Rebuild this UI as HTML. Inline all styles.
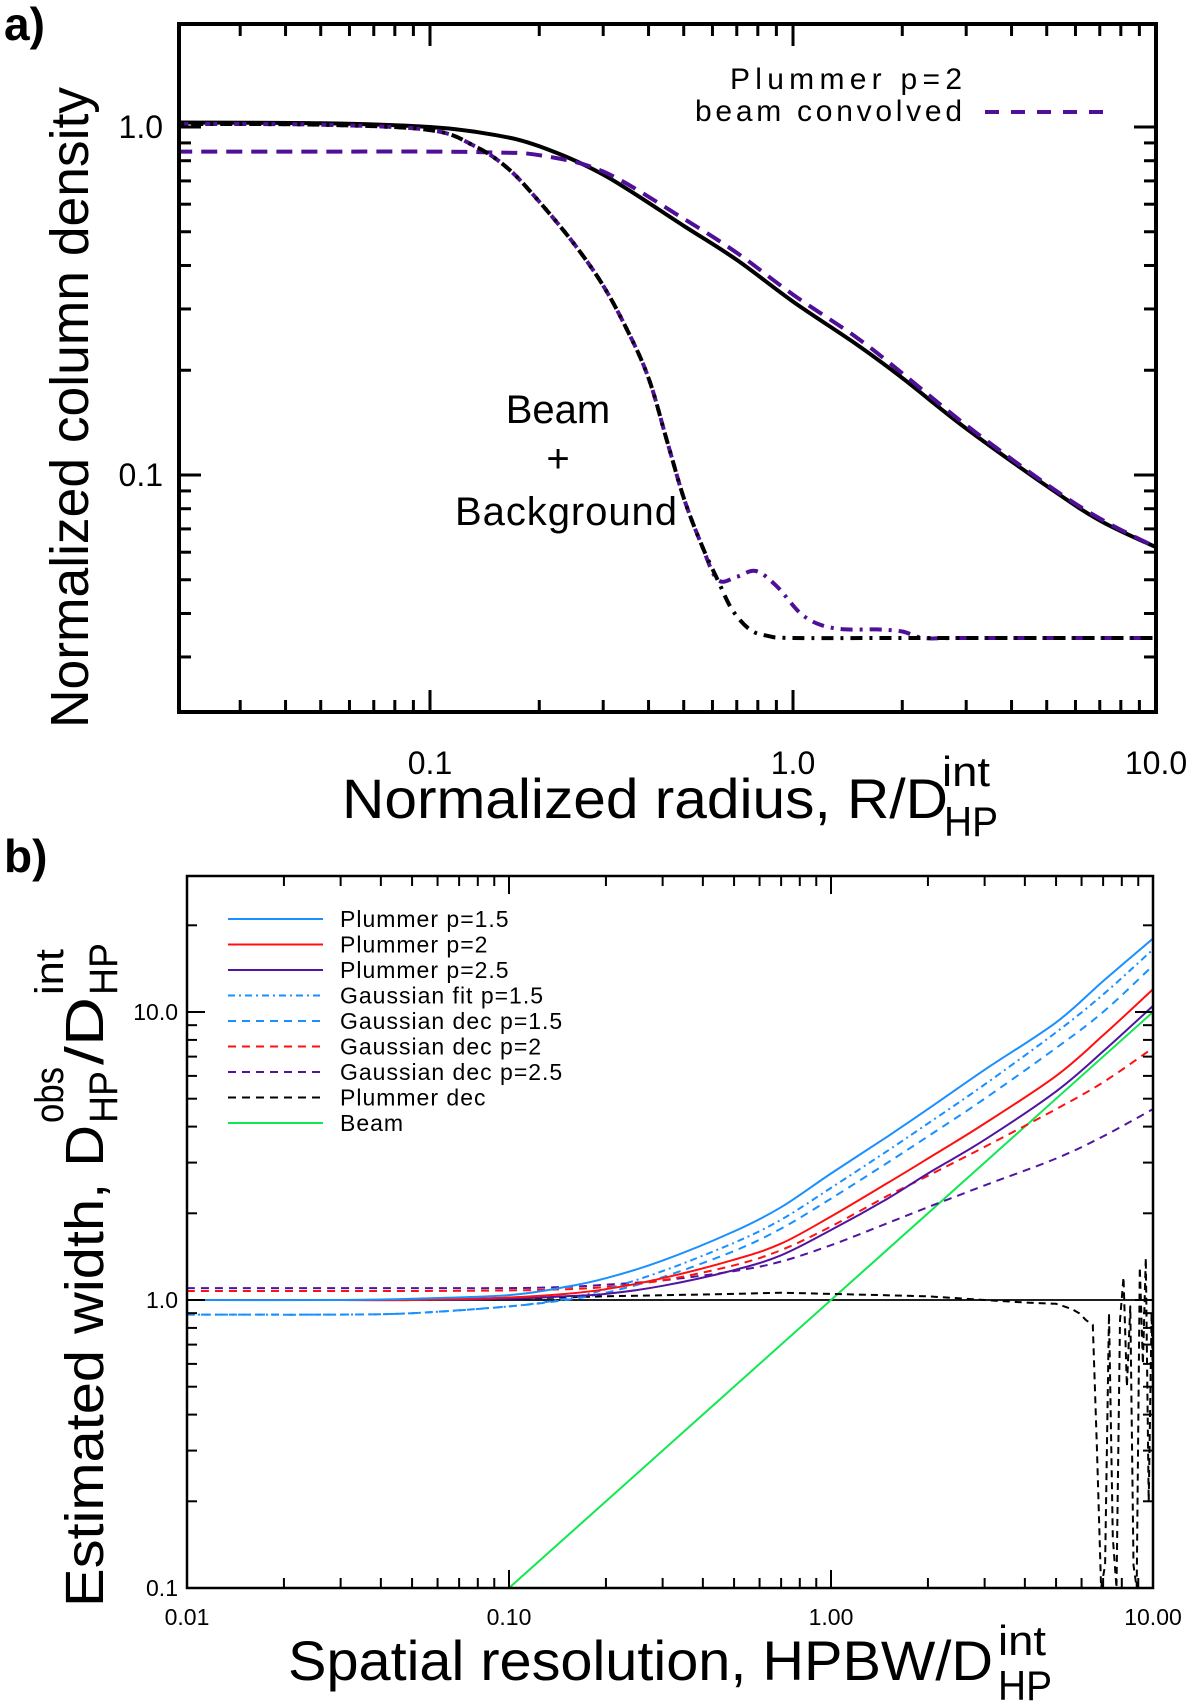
<!DOCTYPE html>
<html><head><meta charset="utf-8"><style>
html,body{margin:0;padding:0;background:#fff;}
svg{display:block;font-family:"Liberation Sans",sans-serif;}
</style></head><body>
<svg id="fig" width="1200" height="1702" viewBox="0 0 1200 1702" xmlns="http://www.w3.org/2000/svg">
  <text x="4" y="40" font-size="46" font-weight="bold">a)</text>
  <text x="4" y="872" font-size="46" font-weight="bold">b)</text>
  <g id="pa"></g>
  <g id="pb"></g>
  <text x="962" y="89" font-size="30" text-anchor="end" textLength="232">Plummer  p=2</text>
  <text x="962" y="121" font-size="30" text-anchor="end" textLength="267">beam  convolved</text>
  <line x1="985" y1="112" x2="1105" y2="112" stroke="#4f0f96" stroke-width="4" stroke-dasharray="14 12"/>
  <text x="558" y="423" font-size="40" text-anchor="middle">Beam</text>
  <text x="558" y="472" font-size="40" text-anchor="middle">+</text>
  <text x="566" y="525" font-size="40" text-anchor="middle" textLength="222">Background</text>
  <text transform="translate(88,728) rotate(-90)" font-size="54" textLength="641" lengthAdjust="spacingAndGlyphs">Normalized column density</text>
  <g>
    <text x="342" y="818" font-size="56" textLength="606" lengthAdjust="spacingAndGlyphs">Normalized radius, R/D</text>
    <text x="942" y="786" font-size="42" textLength="48" lengthAdjust="spacingAndGlyphs">int</text>
    <text x="944" y="836" font-size="42" textLength="54" lengthAdjust="spacingAndGlyphs">HP</text>
  </g>
  <g transform="translate(103,1607) rotate(-90)">
    <text x="0" y="0" font-size="54" textLength="482" lengthAdjust="spacingAndGlyphs">Estimated width, D</text>
    <text x="484" y="-40" font-size="40" textLength="56" lengthAdjust="spacingAndGlyphs">obs</text>
    <text x="484" y="14" font-size="40" textLength="52" lengthAdjust="spacingAndGlyphs">HP</text>
    <text x="542" y="0" font-size="54" textLength="68" lengthAdjust="spacingAndGlyphs">/D</text>
    <text x="612" y="-40" font-size="40" textLength="46" lengthAdjust="spacingAndGlyphs">int</text>
    <text x="612" y="14" font-size="40" textLength="52" lengthAdjust="spacingAndGlyphs">HP</text>
  </g>
  <g>
    <text x="288" y="1680" font-size="56" textLength="705" lengthAdjust="spacingAndGlyphs">Spatial resolution, HPBW/D</text>
    <text x="998" y="1655" font-size="42" textLength="48" lengthAdjust="spacingAndGlyphs">int</text>
    <text x="998" y="1700" font-size="42" textLength="54" lengthAdjust="spacingAndGlyphs">HP</text>
  </g>
</svg>
<script>
// ---------- Panel a data ----------
const aPlumX = [0.02,0.05,0.1,0.15,0.2,0.3,0.5,0.7,1,1.5,2,3,5,7,10];
const aPlumY = [1.03,1.025,1.0,0.95,0.88,0.73,0.52,0.415,0.315,0.237,0.19,0.136,0.093,0.074,0.062];
const aConvX = [0.02,0.05,0.1,0.15,0.2,0.3,0.5,0.7,1,1.5,2,3,5,7,10];
const aConvY = [0.85,0.85,0.85,0.845,0.83,0.745,0.545,0.435,0.33,0.248,0.196,0.139,0.094,0.075,0.062];
const aBeamX = [0.02,0.05,0.1,0.133,0.164,0.2,0.25,0.3,0.35,0.4,0.45,0.5,0.56,0.62,0.68,0.76,0.85,1,2,10];
const aBeamY = [1.02,1.015,0.98,0.88,0.76,0.61,0.46,0.35,0.26,0.19,0.125,0.086,0.063,0.05,0.041,0.036,0.0345,0.034,0.034,0.034];
const aBeamConvX = [0.02,0.05,0.1,0.133,0.164,0.2,0.25,0.3,0.35,0.4,0.45,0.5,0.56,0.62,0.7,0.79,0.9,1.05,1.2,1.4,1.7,2.0,2.3,3,10];
const aBeamConvY = [1.02,1.015,0.98,0.88,0.76,0.61,0.46,0.35,0.26,0.19,0.125,0.086,0.063,0.05,0.051,0.053,0.048,0.04,0.037,0.036,0.036,0.0355,0.034,0.034,0.034];
const aXTicks = [0.1,1,10];
const aXTickLabels = ["0.1","1.0","10.0"];
const aYTicks = [0.1,1];
const aYTickLabels = ["0.1","1.0"];

// ---------- Panel b data ----------
const bX = [0.01,0.03,0.05,0.1,0.15,0.2,0.3,0.5,0.7,1,1.5,2,3,5,7,10];
const bPlum15 = [1.0,1.0,1.01,1.04,1.11,1.19,1.37,1.73,2.1,2.75,3.7,4.6,6.3,9.2,12.8,18];
const bPlum2 = [1.0,1.0,1.0,1.02,1.05,1.09,1.19,1.38,1.57,1.95,2.55,3.1,4.1,6.0,8.3,12];
const bPlum25 = [1.0,1.0,1.0,1.01,1.03,1.05,1.12,1.27,1.43,1.75,2.25,2.75,3.6,5.3,7.3,10.5];
const bGfit15 = [0.89,0.89,0.9,0.95,1.01,1.09,1.26,1.58,1.9,2.45,3.3,4.1,5.6,8.5,11.5,16.5];
const bGdec15 = [0.89,0.89,0.9,0.95,1.0,1.06,1.2,1.48,1.77,2.25,3.0,3.7,5.0,7.5,10,14.5];
const bGdec2 = [1.075,1.075,1.075,1.08,1.09,1.11,1.17,1.32,1.49,1.8,2.3,2.7,3.4,4.6,5.7,7.5];
const bGdec25 = [1.1,1.1,1.1,1.1,1.11,1.13,1.17,1.26,1.36,1.55,1.85,2.1,2.5,3.1,3.7,4.6];
const bPdecX = [0.01,0.05,0.1,0.2,0.5,0.7,1,2,3,4,5,5.3,5.6,5.9,6.2,6.5,6.7,6.9,7.1,7.3,7.5,7.7,7.9,8.1,8.3,8.5,8.7,8.9,9.1,9.3,9.5,9.7,9.9,10];
const bPdecY = [1.0,1.0,1.01,1.03,1.05,1.06,1.05,1.03,1.0,0.98,0.97,0.95,0.93,0.9,0.85,0.82,0.3,0.1,0.12,0.9,0.15,0.1,0.85,1.2,0.5,0.95,0.12,0.1,1.3,0.6,1.4,0.2,0.9,0.5];
const bBeamX = [0.1,10];
const bBeamY = [0.1,10];
const bUnityX = [0.01,10];
const bUnityY = [1,1];
const bXTicks = [0.01,0.1,1,10];
const bXTickLabels = ["0.01","0.10","1.00","10.00"];
const bYTicks = [0.1,1,10];
const bYTickLabels = ["0.1","1.0","10.0"];

const NS = "http://www.w3.org/2000/svg";
const L = Math.log10;
const aL=179,aR=1156,aT=24,aB=712;
function xA(v){return 430+363*L(v/0.1);}
function yA(v){return 127-348*L(v);}
const bL=187,bR=1153,bT=876,bB=1588;
function xB(v){return 509+322*L(v/0.1);}
function yB(v){return 1300-288*L(v);}

function mk(tag,attrs,parent){const e=document.createElementNS(NS,tag);for(const k in attrs)e.setAttribute(k,attrs[k]);parent.appendChild(e);return e;}

function pathD(pts,smooth){
  let d="M"+pts[0][0].toFixed(1)+","+pts[0][1].toFixed(1);
  for(let i=0;i<pts.length-1;i++){
    const p0=pts[Math.max(0,i-1)],p1=pts[i],p2=pts[i+1],p3=pts[Math.min(pts.length-1,i+2)];
    if(!smooth){d+="L"+p2[0].toFixed(1)+","+p2[1].toFixed(1);continue;}
    const c1=[p1[0]+(p2[0]-p0[0])/6,p1[1]+(p2[1]-p0[1])/6];
    const c2=[p2[0]-(p3[0]-p1[0])/6,p2[1]-(p3[1]-p1[1])/6];
    d+="C"+c1[0].toFixed(1)+","+c1[1].toFixed(1)+" "+c2[0].toFixed(1)+","+c2[1].toFixed(1)+" "+p2[0].toFixed(1)+","+p2[1].toFixed(1);
  }
  return d;
}
function series(g,xs,ys,fx,fy,color,w,dash,name,clipId,smooth,offset){
  const pts=xs.map((x,i)=>[fx(x),fy(ys[i])]);
  const p=mk("path",{d:pathD(pts,smooth!==false),fill:"none",stroke:color,"stroke-width":w,"stroke-linejoin":"round","clip-path":"url(#"+clipId+")"},g);
  if(dash)p.setAttribute("stroke-dasharray",dash);
  if(offset)p.setAttribute("stroke-dashoffset",offset);
  
  
}

const svg=document.getElementById("fig");
const defs=mk("defs",{},svg);
const ca=mk("clipPath",{id:"clipA"},defs);mk("rect",{x:aL,y:aT,width:aR-aL,height:aB-aT},ca);
const cb=mk("clipPath",{id:"clipB"},defs);mk("rect",{x:bL,y:bT,width:bR-bL,height:bB-bT},cb);

function minorList(lo,hi){const out=[];for(let d=Math.floor(L(lo));d<=Math.ceil(L(hi));d++){for(let m=1;m<10;m++){const v=m*Math.pow(10,d);if(v>=lo*0.999&&v<=hi*1.001)out.push([v,m===1]);}}return out;}

// ---- Panel a ----
const ga=document.getElementById("pa");
const purple="#4f0f96";
series(ga,aPlumX,aPlumY,xA,yA,"#000",4,null,"plummer-p2-curve","clipA");
series(ga,aConvX,aConvY,xA,yA,purple,4,"16 9","plummer-convolved-curve","clipA");
series(ga,aBeamConvX,aBeamConvY,xA,yA,purple,4,"12 7 3 7","beam-background-convolved-curve","clipA");
series(ga,aBeamX,aBeamY,xA,yA,"#000",4,"12 7 3 7","beam-background-curve","clipA",true,14);
mk("rect",{x:aL,y:aT,width:aR-aL,height:aB-aT,fill:"none",stroke:"#000","stroke-width":4},ga);
minorList(0.0205,10).forEach(([v,maj])=>{const x=xA(v),len=maj?22:12;
  const t1=mk("line",{x1:x,y1:aB,x2:x,y2:aB-len,stroke:"#000","stroke-width":3},ga);
  
  mk("line",{x1:x,y1:aT,x2:x,y2:aT+len,stroke:"#000","stroke-width":3},ga);});
minorList(0.0215,1.95).forEach(([v,maj])=>{const y=yA(v),len=maj?22:12;
  const t1=mk("line",{x1:aL,y1:y,x2:aL+len,y2:y,stroke:"#000","stroke-width":3},ga);
  
  mk("line",{x1:aR,y1:y,x2:aR-len,y2:y,stroke:"#000","stroke-width":3},ga);});
aXTicks.forEach((v,i)=>{const t=mk("text",{x:xA(v),y:774,"font-size":32,"text-anchor":"middle"},ga);t.textContent=aXTickLabels[i];
  });
aYTicks.forEach((v,i)=>{const t=mk("text",{x:163,y:yA(v)+11,"font-size":32,"text-anchor":"end"},ga);t.textContent=aYTickLabels[i];
  });

// ---- Panel b ----
const gb=document.getElementById("pb");
const blue="#1a90ff",red="#ff1010",purp="#5015a0",green="#10e850";
series(gb,bUnityX,bUnityY,xB,yB,"#000",1.8,null,"unity-line","clipB",false);
series(gb,bBeamX,bBeamY,xB,yB,green,2,null,"beam-line","clipB",false);
series(gb,bPdecX,bPdecY,xB,yB,"#000",2,"7 5","plummer-dec-curve","clipB",false);
series(gb,bX,bGdec25,xB,yB,purp,2,"8 6","gaussian-dec-p2.5-curve","clipB");
series(gb,bX,bGdec2,xB,yB,red,2,"8 6","gaussian-dec-p2-curve","clipB");
series(gb,bX,bGdec15,xB,yB,blue,2,"8 6","gaussian-dec-p1.5-curve","clipB");
series(gb,bX,bGfit15,xB,yB,blue,2,"7 4 2 4","gaussian-fit-p1.5-curve","clipB");
series(gb,bX,bPlum25,xB,yB,purp,2,null,"plummer-p2.5-curve","clipB");
series(gb,bX,bPlum2,xB,yB,red,2,null,"plummer-p2-curve","clipB");
series(gb,bX,bPlum15,xB,yB,blue,2,null,"plummer-p1.5-curve","clipB");
mk("rect",{x:bL,y:bT,width:bR-bL,height:bB-bT,fill:"none",stroke:"#000","stroke-width":2.5},gb);
minorList(0.0101,9.99).concat([[0.01,true],[10,true]]).forEach(([v,maj])=>{const x=xB(v),len=maj?18:10;
  const t1=mk("line",{x1:x,y1:bB,x2:x,y2:bB-len,stroke:"#000","stroke-width":2},gb);
  
  mk("line",{x1:x,y1:bT,x2:x,y2:bT+len,stroke:"#000","stroke-width":2},gb);});
minorList(0.1,28).forEach(([v,maj])=>{const y=yB(v),len=maj?18:10;
  const t1=mk("line",{x1:bL,y1:y,x2:bL+len,y2:y,stroke:"#000","stroke-width":2},gb);
  
  mk("line",{x1:bR,y1:y,x2:bR-len,y2:y,stroke:"#000","stroke-width":2},gb);});
bXTicks.forEach((v,i)=>{const t=mk("text",{x:xB(v),y:1625,"font-size":23,"text-anchor":"middle"},gb);t.textContent=bXTickLabels[i];
  });
bYTicks.forEach((v,i)=>{const t=mk("text",{x:178,y:yB(v)+8,"font-size":23,"text-anchor":"end"},gb);t.textContent=bYTickLabels[i];
  });

const legNames=["Plummer  p=1.5","Plummer  p=2","Plummer  p=2.5","Gaussian  fit  p=1.5","Gaussian  dec  p=1.5","Gaussian  dec  p=2","Gaussian  dec  p=2.5","Plummer  dec","Beam"];
const legColors=[blue,red,purp,blue,blue,red,purp,"#000",green];
const legDash=["","","","7 4 2 4","8 6","8 6","8 6","8 6",""];
legNames.forEach((n,i)=>{const y=919+25.5*i;
  const g=mk("g",{},svg);
  
  
  const ln=mk("line",{x1:228,y1:y,x2:323,y2:y,stroke:legColors[i],"stroke-width":2},g);
  if(legDash[i])ln.setAttribute("stroke-dasharray",legDash[i]);
  const t=mk("text",{x:340,y:y+8,"font-size":23,"letter-spacing":"1"},g);t.textContent=n;});
</script>
</body></html>
